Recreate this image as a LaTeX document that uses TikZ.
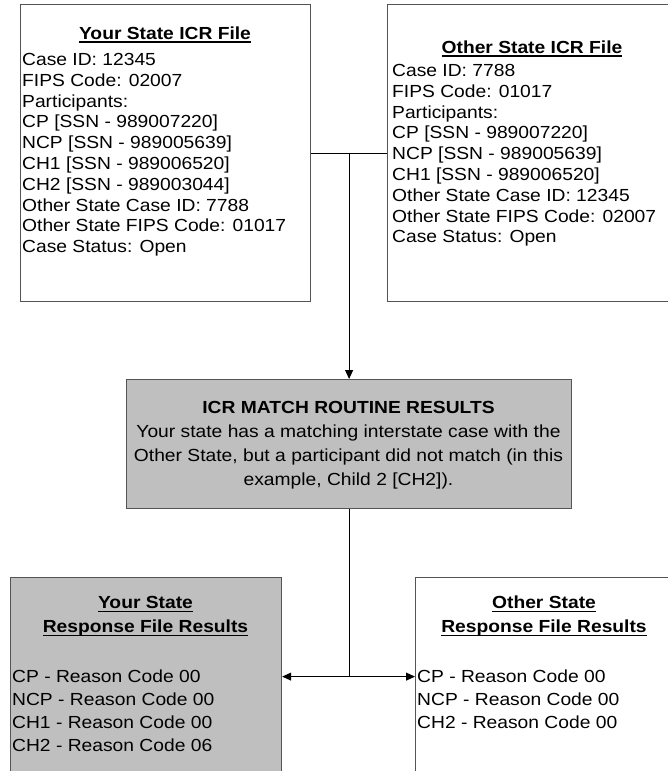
\documentclass[tikz,border=0pt]{standalone}
\usepackage{fontspec}
\setmainfont{Liberation Sans}[FakeStretch=1.1]
\usetikzlibrary{arrows.meta}
\usetikzlibrary{calc}
\definecolor{boxgray}{rgb}{0.75,0.75,0.75}
\definecolor{edgegray}{rgb}{0.33,0.33,0.33}
\newcommand{\ttl}[1]{\setbox0=\hbox{\bfseries #1}\rlap{\rule[-3.4pt]{\wd0}{1.3pt}}\box0}

\begin{document}
\begin{tikzpicture}[x=1pt,y=-1pt,
  box/.style={draw=edgegray,line width=1.2pt,inner sep=0pt,anchor=north west},
  graybox/.style={box,fill=boxgray},
  txt/.style={inner sep=0pt,font=\fontsize{17.5}{20.8}\selectfont},
  widetxt/.style={inner sep=0pt,font=\fontsize{17.5}{24}\selectfont},
  lowtxt/.style={inner sep=0pt,font=\fontsize{17.5}{23}\selectfont},
  link/.style={line width=1pt},
  tip/.style={link,-{Triangle[length=9pt,width=8pt]}}]
\useasboundingbox (0,0) rectangle (668,771);
\clip (0,0) rectangle (668,771);
% boxes
\node[box,minimum width=290pt,minimum height=297pt] (yicr) at (20,4) {};
\node[box,minimum width=290pt,minimum height=297pt] (oicr) at (387,4) {};
\node[graybox,minimum width=445pt,minimum height=129pt] (match) at (126,379) {};
\node[graybox,minimum width=271pt,minimum height=198pt] (ysres) at (10,577) {};
\node[box,minimum width=258pt,minimum height=198pt] (osres) at (415,577) {};
% your state icr file
\node[txt,anchor=base] (yicr-t) at (165,39.3) {\ttl{Your State ICR File}};
\node[txt,anchor=north west,align=left] (yicr-b) at (22,50.7) {\strut Case ID: 12345\\
  FIPS Code: 02007\\ Participants:\\ CP [SSN - 989007220]\\ NCP [SSN - 989005639]\\
  CH1 [SSN - 989006520]\\ CH2 [SSN - 989003044]\\ Other State Case ID: 7788\\
  Other State FIPS Code: 01017\\ Case Status: Open};
% other state icr file
\node[txt,anchor=base] (oicr-t) at (532,53.3) {\ttl{Other State ICR File}};
\node[txt,anchor=north west,align=left] (oicr-b) at (392,61.7) {\strut Case ID: 7788\\
  FIPS Code: 01017\\ Participants:\\ CP [SSN - 989007220]\\ NCP [SSN - 989005639]\\
  CH1 [SSN - 989006520]\\ Other State Case ID: 12345\\
  Other State FIPS Code: 02007\\ Case Status: Open};
% match results
\node[widetxt,anchor=north,align=center] (match-t) at (348.5,396.5) {\strut\textbf{ICR MATCH ROUTINE RESULTS}\\
  Your state has a matching interstate case with the\\
  Other State, but a participant did not match (in this\\
  example, Child 2 [CH2]).};
% response files
\node[widetxt,anchor=north,align=center] (ysres-t) at (145.5,591.5) {\strut\ttl{Your State}\\ \ttl{Response File Results}};
\node[lowtxt,anchor=north west,align=left] (ysres-b) at (12,666.2) {\strut CP - Reason Code 00\\
  NCP - Reason Code 00\\ CH1 - Reason Code 00\\ CH2 - Reason Code 06};
\node[widetxt,anchor=north,align=center] (osres-t) at (544,591.5) {\strut\ttl{Other State}\\ \ttl{Response File Results}};
\node[lowtxt,anchor=north west,align=left] (osres-b) at (417,666.2) {\strut CP - Reason Code 00\\
  NCP - Reason Code 00\\ CH2 - Reason Code 00};
% connectors
\coordinate (top-j) at ($(yicr.east)!0.5!(oicr.west)$);
\coordinate (bot-j) at (match.south |- ysres.east);
\draw[link] (yicr.east) -- (oicr.west);
\draw[tip] (top-j) -- (match.north);
\draw[link] (match.south) -- (bot-j);
\draw[tip] (bot-j) -- (ysres.east);
\draw[tip] (bot-j) -- (osres.west);
\end{tikzpicture}
\end{document}
